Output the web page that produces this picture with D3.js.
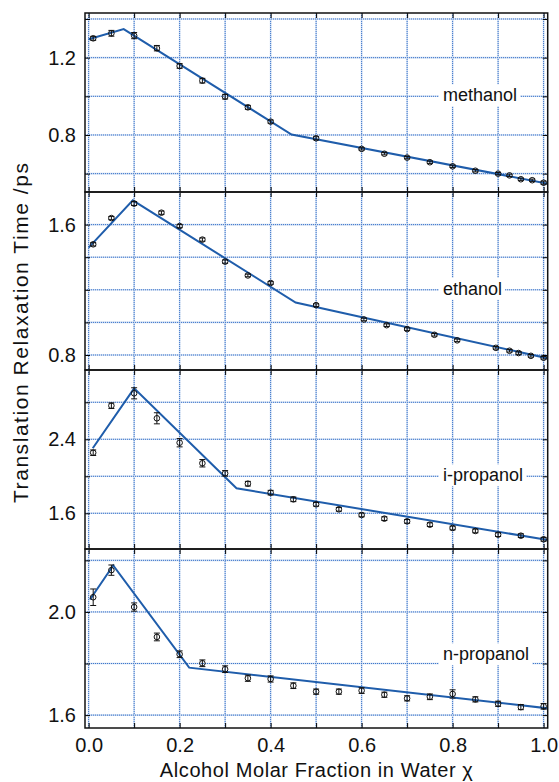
<!DOCTYPE html>
<html>
<head>
<meta charset="utf-8">
<script src="https://cdn.jsdelivr.net/npm/d3@7"></script>
<style>
  body { margin: 0; background: #fff; }
  svg text { font-family: "Liberation Sans", Arial, Helvetica, sans-serif; fill: #111; }
</style>
</head>
<body>
<div id="chart"></div>
<script>
// --- Data ---
const alcohols = ["methanol", "ethanol", "i-propanol", "n-propanol"];

const xMethanol = [0.01, 0.05, 0.10, 0.15, 0.20, 0.25, 0.30, 0.35, 0.40, 0.50, 0.60, 0.65, 0.70, 0.75, 0.80, 0.85, 0.90, 0.925, 0.95, 0.975, 1.00];
const yMethanol = [1.300, 1.326, 1.314, 1.249, 1.157, 1.081, 0.998, 0.943, 0.869, 0.783, 0.728, 0.703, 0.683, 0.659, 0.638, 0.615, 0.600, 0.591, 0.571, 0.566, 0.553];
const eMethanol = [0.010, 0.015, 0.016, 0.014, 0.012, 0.012, 0.012, 0.010, 0.008, 0.008, 0.006, 0.006, 0.006, 0.006, 0.006, 0.006, 0.006, 0.006, 0.006, 0.006, 0.008];

const xEthanol = [0.01, 0.05, 0.10, 0.16, 0.20, 0.25, 0.30, 0.35, 0.40, 0.50, 0.605, 0.655, 0.70, 0.76, 0.81, 0.895, 0.925, 0.945, 0.972, 1.00];
const yEthanol = [1.479, 1.640, 1.729, 1.673, 1.591, 1.508, 1.373, 1.288, 1.242, 1.106, 1.018, 0.983, 0.959, 0.924, 0.890, 0.844, 0.826, 0.812, 0.795, 0.783];
const eEthanol = [0.010, 0.010, 0.012, 0.010, 0.010, 0.010, 0.010, 0.008, 0.008, 0.008, 0.008, 0.008, 0.008, 0.008, 0.008, 0.008, 0.008, 0.008, 0.008, 0.008];

const xIPropanol = [0.01, 0.05, 0.10, 0.15, 0.20, 0.25, 0.30, 0.35, 0.40, 0.45, 0.50, 0.55, 0.60, 0.65, 0.70, 0.75, 0.80, 0.85, 0.90, 0.95, 1.00];
const yIPropanol = [2.255, 2.763, 2.897, 2.627, 2.363, 2.141, 2.032, 1.920, 1.823, 1.751, 1.697, 1.643, 1.582, 1.542, 1.513, 1.477, 1.441, 1.409, 1.369, 1.358, 1.319];
const eIPropanol = [0.030, 0.030, 0.060, 0.060, 0.045, 0.040, 0.030, 0.025, 0.025, 0.025, 0.020, 0.020, 0.020, 0.020, 0.020, 0.020, 0.020, 0.020, 0.020, 0.020, 0.020];

const xNPropanol = [0.01, 0.05, 0.10, 0.15, 0.20, 0.25, 0.30, 0.35, 0.40, 0.45, 0.50, 0.55, 0.60, 0.65, 0.70, 0.75, 0.80, 0.85, 0.90, 0.95, 1.00];
const yNPropanol = [2.057, 2.162, 2.019, 1.903, 1.836, 1.801, 1.778, 1.743, 1.740, 1.714, 1.691, 1.691, 1.695, 1.679, 1.665, 1.671, 1.682, 1.661, 1.644, 1.631, 1.634];
const eNPropanol = [0.032, 0.020, 0.016, 0.015, 0.013, 0.013, 0.013, 0.012, 0.012, 0.011, 0.010, 0.010, 0.011, 0.010, 0.010, 0.011, 0.016, 0.010, 0.010, 0.010, 0.011];

// piecewise linear model lines (knots)
const lineXMethanol = [0.0, 0.077, 0.446, 1.01];
const lineYMethanol = [1.295, 1.348, 0.802, 0.548];
const lineXEthanol = [0.0, 0.097, 0.455, 1.01];
const lineYEthanol = [1.459, 1.749, 1.122, 0.779];
const lineXIPropanol = [0.009, 0.10, 0.325, 1.01];
const lineYIPropanol = [2.303, 2.951, 1.870, 1.311];
const lineXNPropanol = [0.003, 0.054, 0.221, 1.01];
const lineYNPropanol = [2.048, 2.180, 1.784, 1.626];

// axis ticks
const xGridTicks = [0, 0.1, 0.2, 0.3, 0.4, 0.5, 0.6, 0.7, 0.8, 0.9, 1.0];
const xLabelTicks = [0, 0.2, 0.4, 0.6, 0.8, 1.0];
const yGridTicks = [[0.6, 0.8, 1.0, 1.2, 1.4], [0.8, 1.0, 1.2, 1.4, 1.6], [1.6, 2.0, 2.4, 2.8], [1.6, 1.8, 2.0, 2.2]];
const yLabelTicks = [[0.8, 1.2], [0.8, 1.6], [1.6, 2.4], [1.6, 2.0]];
const yDomains = [[0.505, 1.431], [0.708, 1.80], [1.214, 3.149], [1.55, 2.244]];
const labelLevels = [1.0, 1.2, 2.0, 1.832];

const series = [
  { x: xMethanol, y: yMethanol, e: eMethanol, lx: lineXMethanol, ly: lineYMethanol },
  { x: xEthanol, y: yEthanol, e: eEthanol, lx: lineXEthanol, ly: lineYEthanol },
  { x: xIPropanol, y: yIPropanol, e: eIPropanol, lx: lineXIPropanol, ly: lineYIPropanol },
  { x: xNPropanol, y: yNPropanol, e: eNPropanol, lx: lineXNPropanol, ly: lineYNPropanol }
];

// --- Layout ---
const W = 559, H = 782;
const left = 85, right = 547.7;
const panelEdges = [13, 192, 370, 549, 728];
const gridBlue = "#3d76cc";
const lineBlue = "#1f5dab";

const svg = d3.select("#chart").append("svg")
  .attr("width", W).attr("height", H);

const x = d3.scaleLinear().domain([-0.008, 1.009]).range([left, right]);
const fmt = d3.format(".1f");

alcohols.forEach((name, i) => {
  const top = panelEdges[i], bottom = panelEdges[i + 1];
  const y = d3.scaleLinear().domain(yDomains[i]).range([bottom, top]);
  const s = series[i];
  const g = svg.append("g");

  const clipId = "clip" + i;
  g.append("clipPath").attr("id", clipId)
    .append("rect").attr("x", left).attr("y", top).attr("width", right - left).attr("height", bottom - top);

  // grid
  const grid = g.append("g");
  grid.selectAll(".vg").data(xGridTicks).join("line")
    .attr("x1", d => x(d)).attr("x2", d => x(d)).attr("y1", top).attr("y2", bottom)
    .attr("stroke", "#c9d9f0").attr("stroke-width", 1.6);
  grid.selectAll(".vg2").data(xGridTicks).join("line")
    .attr("x1", d => x(d)).attr("x2", d => x(d)).attr("y1", top).attr("y2", bottom)
    .attr("stroke", gridBlue).attr("stroke-width", 1).attr("stroke-dasharray", "1,1");
  grid.selectAll(".hg").data(yGridTicks[i]).join("line")
    .attr("x1", left).attr("x2", right).attr("y1", d => y(d)).attr("y2", d => y(d))
    .attr("stroke", "#c9d9f0").attr("stroke-width", 1.6);
  grid.selectAll(".hg2").data(yGridTicks[i]).join("line")
    .attr("x1", left).attr("x2", right).attr("y1", d => y(d)).attr("y2", d => y(d))
    .attr("stroke", gridBlue).attr("stroke-width", 1).attr("stroke-dasharray", "1,1");

  // alcohol label with white box
  const lbl = g.append("text")
    .attr("x", 443).attr("y", y(labelLevels[i]) + 5)
    .style("font-size", "18px")
    .text(name);
  const bb = lbl.node().getBBox();
  g.insert("rect", "text")
    .attr("x", bb.x - 4).attr("y", bb.y - 1)
    .attr("width", bb.width + 7).attr("height", bb.height + 2)
    .attr("fill", "#fff");

  // model line
  const pts = s.lx.map((v, k) => [v, s.ly[k]]);
  g.append("path")
    .datum(pts)
    .attr("clip-path", `url(#${clipId})`)
    .attr("fill", "none")
    .attr("stroke", lineBlue)
    .attr("stroke-width", 2)
    .attr("d", d3.line().x(d => x(d[0])).y(d => y(d[1])));

  // points with error bars
  const data = s.x.map((v, k) => ({ x: v, y: s.y[k], e: s.e[k] }));
  const pg = g.append("g").attr("clip-path", `url(#${clipId})`)
    .attr("stroke", "#111").attr("fill", "none").attr("stroke-width", 1);
  pg.selectAll(".eb").data(data).join("path")
    .attr("d", d => {
      const cx = x(d.x), y1 = y(d.y + d.e), y2 = y(d.y - d.e);
      return `M${cx},${y1}V${y2}M${cx - 3},${y1}H${cx + 3}M${cx - 3},${y2}H${cx + 3}`;
    });
  pg.selectAll("circle").data(data).join("circle")
    .attr("cx", d => x(d.x)).attr("cy", d => y(d.y)).attr("r", 2.8);

  // axes: left and right
  g.append("g")
    .attr("transform", `translate(${left},0)`)
    .call(d3.axisLeft(y).tickValues(yGridTicks[i]).tickSizeInner(-5).tickSizeOuter(0).tickPadding(9)
      .tickFormat(d => yLabelTicks[i].some(t => Math.abs(t - d) < 1e-9) ? fmt(d) : ""))
    .call(a => a.select(".domain").remove())
    .call(a => a.selectAll("text").style("font-size", "20px").style("font-family", "Liberation Sans, Arial, sans-serif").attr("fill", "#111"));
  g.append("g")
    .attr("transform", `translate(${right},0)`)
    .call(d3.axisRight(y).tickValues(yGridTicks[i]).tickSizeInner(-5).tickSizeOuter(0).tickFormat(""))
    .call(a => a.select(".domain").remove());

  // top & bottom ticks
  g.append("g")
    .attr("transform", `translate(0,${top})`)
    .call(d3.axisTop(x).tickValues(xGridTicks).tickSizeInner(-5).tickSizeOuter(0).tickFormat(""))
    .call(a => a.select(".domain").remove());
  const bottomAxis = d3.axisBottom(x).tickValues(xGridTicks).tickSizeInner(-5).tickSizeOuter(0).tickPadding(10)
    .tickFormat(d => i === 3 && xLabelTicks.some(t => Math.abs(t - d) < 1e-9) ? fmt(d) : "");
  g.append("g")
    .attr("transform", `translate(0,${bottom})`)
    .call(bottomAxis)
    .call(a => a.select(".domain").remove())
    .call(a => a.selectAll("text").style("font-size", "20px").style("font-family", "Liberation Sans, Arial, sans-serif").attr("fill", "#111"));

  // frame lines
  g.append("rect")
    .attr("x", left).attr("y", top).attr("width", right - left).attr("height", bottom - top)
    .attr("fill", "none").attr("stroke", "#111").attr("stroke-width", 1.5);
});

// --- Axis titles ---
svg.append("text")
  .attr("x", (left + right) / 2).attr("y", 777)
  .attr("text-anchor", "middle")
  .attr("textLength", 313)
  .style("font-size", "20px")
  .text("Alcohol Molar Fraction in Water χ");

svg.append("text")
  .attr("transform", `translate(28,333) rotate(-90)`)
  .attr("text-anchor", "middle")
  .attr("textLength", 340)
  .style("font-size", "21px")
  .text("Translation Relaxation Time /ps");
</script>
</body>
</html>
